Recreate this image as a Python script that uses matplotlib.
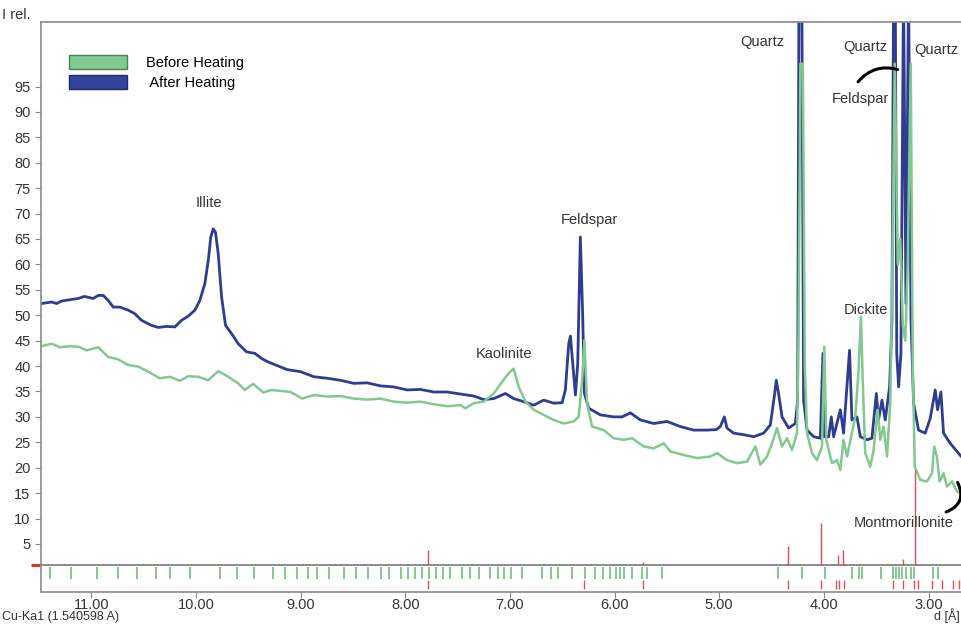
import matplotlib
matplotlib.use("Agg")
import matplotlib.pyplot as plt
from matplotlib.patches import Patch

plt.rcParams['font.family'] = ['Liberation Sans', 'DejaVu Sans']

# d spacing (Angstrom) / relative intensity
after_d = [11.475, 11.379, 11.331, 11.284, 11.188, 11.124, 11.067, 10.981, 10.933, 10.885,
           10.838, 10.790, 10.727, 10.647, 10.584, 10.520, 10.424, 10.360, 10.281, 10.201,
           10.138, 10.074, 10.010, 9.963, 9.915, 9.882, 9.858, 9.835, 9.813, 9.787,
           9.755, 9.717, 9.660, 9.596, 9.517, 9.437, 9.373, 9.309, 9.128, 9.001,
           8.874, 8.746, 8.619, 8.492, 8.364, 8.237, 8.110, 7.982, 7.855, 7.728,
           7.600, 7.473, 7.346, 7.250, 7.155, 7.043, 6.964, 6.868, 6.773, 6.677,
           6.582, 6.501, 6.470, 6.438, 6.422, 6.400, 6.374, 6.352, 6.327, 6.305,
           6.288, 6.247, 6.136, 6.009, 5.928, 5.849, 5.754, 5.627, 5.499, 5.372,
           5.245, 5.117, 5.028, 4.990, 4.951, 4.926, 4.862, 4.767, 4.671, 4.576,
           4.512, 4.474, 4.455, 4.433, 4.400, 4.337, 4.273, 4.251, 4.238, 4.211,
           4.194, 4.161, 4.098, 4.034, 4.009, 3.996, 3.955, 3.929, 3.907, 3.843,
           3.812, 3.755, 3.732, 3.684, 3.652, 3.588, 3.541, 3.499, 3.478, 3.445,
           3.414, 3.372, 3.350, 3.334, 3.318, 3.304, 3.286, 3.264, 3.239, 3.216,
           3.191, 3.168, 3.143, 3.096, 3.032, 2.984, 2.936, 2.914, 2.882, 2.857,
           2.793, 2.729, 2.688, 2.602]
after_i = [52.3, 52.6, 52.3, 52.8, 53.1, 53.3, 53.7, 53.3, 53.9, 53.9,
           52.9, 51.6, 51.6, 51.0, 50.3, 49.0, 48.0, 47.6, 47.8, 47.7,
           49.0, 49.8, 51.0, 52.9, 56.2, 60.8, 65.4, 67.0, 66.3, 62.1,
           53.6, 48.0, 46.4, 44.4, 42.8, 42.5, 41.5, 40.8, 39.3, 38.9,
           37.9, 37.6, 37.2, 36.6, 36.7, 36.1, 35.9, 35.3, 35.4, 34.9,
           34.9, 34.5, 34.1, 33.4, 33.6, 34.6, 33.6, 33.0, 32.3, 33.3,
           32.7, 32.8, 35.3, 44.4, 45.9, 40.5, 34.3, 40.5, 65.4, 50.3,
           34.6, 31.7, 30.4, 30.0, 30.0, 30.8, 29.4, 28.7, 29.1, 28.1,
           27.4, 27.4, 27.5, 28.1, 30.0, 27.8, 26.8, 26.5, 26.1, 26.8,
           28.4, 34.0, 37.2, 34.6, 30.0, 27.8, 28.7, 33.3, 115.0, 115.0,
           33.3, 27.4, 26.1, 25.8, 42.5, 26.1, 26.1, 30.0, 26.1, 31.4,
           26.8, 43.1, 29.4, 30.0, 26.1, 25.5, 25.8, 34.6, 29.4, 33.3,
           29.4, 35.9, 49.0, 115.0, 115.0, 42.5, 35.9, 42.5, 115.0, 52.3,
           115.0, 49.0, 32.7, 27.4, 26.8, 29.7, 35.3, 31.4, 34.9, 26.8,
           24.8, 23.2, 22.2, 21.8]

before_d = [11.475, 11.379, 11.300, 11.204, 11.124, 11.045, 10.933, 10.838, 10.742, 10.647,
            10.551, 10.456, 10.345, 10.249, 10.154, 10.074, 9.978, 9.882, 9.787, 9.691,
            9.596, 9.533, 9.453, 9.357, 9.278, 9.096, 8.985, 8.874, 8.746, 8.619,
            8.492, 8.364, 8.237, 8.110, 7.982, 7.855, 7.728, 7.600, 7.473, 7.425,
            7.346, 7.250, 7.155, 7.075, 7.011, 6.964, 6.916, 6.852, 6.773, 6.677,
            6.582, 6.486, 6.391, 6.343, 6.310, 6.288, 6.263, 6.215, 6.104, 6.009,
            5.913, 5.833, 5.722, 5.627, 5.531, 5.467, 5.340, 5.212, 5.085, 5.021,
            4.926, 4.830, 4.734, 4.655, 4.607, 4.543, 4.496, 4.448, 4.400, 4.352,
            4.305, 4.257, 4.242, 4.225, 4.201, 4.182, 4.161, 4.114, 4.066, 4.018,
            3.996, 3.977, 3.923, 3.875, 3.843, 3.812, 3.779, 3.732, 3.700, 3.669,
            3.646, 3.627, 3.605, 3.557, 3.525, 3.487, 3.461, 3.430, 3.397, 3.366,
            3.350, 3.323, 3.294, 3.270, 3.246, 3.222, 3.199, 3.170, 3.151, 3.132,
            3.079, 3.015, 2.967, 2.946, 2.920, 2.895, 2.857, 2.824, 2.776, 2.729,
            2.688, 2.602]
before_i = [43.9, 44.4, 43.7, 43.9, 43.8, 43.1, 43.7, 41.8, 41.3, 40.2,
            39.9, 38.9, 37.6, 37.9, 37.1, 38.0, 37.9, 37.2, 39.0, 37.9,
            36.6, 35.3, 36.5, 34.8, 35.3, 34.9, 33.6, 34.3, 34.0, 34.1,
            33.6, 33.4, 33.6, 33.0, 32.8, 33.0, 32.5, 32.1, 32.3, 31.7,
            32.7, 33.0, 34.6, 36.9, 38.6, 39.5, 35.9, 33.0, 31.4, 30.4,
            29.4, 28.7, 29.1, 30.0, 37.2, 45.1, 32.7, 28.1, 27.4, 25.8,
            25.5, 25.8, 24.2, 23.8, 24.8, 23.2, 22.5, 21.9, 22.2, 22.9,
            21.5, 20.9, 21.2, 24.2, 20.6, 22.2, 24.8, 27.8, 24.2, 25.8,
            23.5, 26.8, 46.4, 99.5, 99.5, 40.0, 26.8, 22.9, 21.5, 24.2,
            43.8, 25.5, 20.9, 21.5, 19.6, 25.5, 22.2, 26.8, 30.0, 39.2,
            49.7, 35.9, 22.9, 20.2, 23.5, 31.4, 25.5, 28.1, 22.2, 32.7,
            53.6, 99.5, 60.0, 65.0, 48.0, 45.0, 60.0, 99.5, 40.0, 20.2,
            17.6, 17.3, 18.9, 24.2, 22.2, 17.3, 18.9, 16.3, 17.3, 15.3,
            15.0, 14.8]

# reference pattern sticks
green_ref_d = [11.398, 11.194, 10.945, 10.743, 10.562, 10.384, 10.243, 10.056, 9.770, 9.610,
               9.445, 9.268, 9.145, 9.037, 8.930, 8.839, 8.724, 8.590, 8.466, 8.356,
               8.227, 8.151, 8.037, 7.969, 7.903, 7.836, 7.774, 7.702, 7.635, 7.568,
               7.454, 7.377, 7.291, 7.186, 7.115, 7.053, 6.986, 6.881, 6.690, 6.609,
               6.537, 6.410, 6.279, 6.183, 6.107, 6.040, 5.990, 5.945, 5.906, 5.830,
               5.735, 5.687, 5.544, 4.435, 4.206, 3.987, 3.729, 3.662, 3.633, 3.452,
               3.337, 3.309, 3.285, 3.252, 3.218, 3.165, 3.141, 2.955, 2.912]
red_ref_d = [7.781, 5.728, 4.339, 4.027, 3.868, 3.815, 3.242, 3.127]
red_ref_h = [2.8, 0.5, 3.6, 8.2, 2.0, 2.8, 1.2, 18.6]
red_low_d = [7.781, 6.288, 5.728, 4.346, 4.027, 3.887, 3.855, 3.810, 3.337, 3.241,
             3.136, 3.104, 2.964, 2.869, 2.767, 2.712]

x_ticks = [11, 10, 9, 8, 7, 6, 5, 4, 3]
y_ticks = [5, 10, 15, 20, 25, 30, 35, 40, 45, 50, 55, 60, 65, 70, 75, 80, 85, 90, 95]

green = '#82c98f'
blue = '#2e3d91'
grey = '#8a8a8a'
base = 0.92

fig = plt.figure(figsize=(9.61, 6.24), dpi=100)
ax = fig.add_axes([0.0427, 0.0513, 0.9573, 0.9135])

ax.plot(after_d, after_i, color=blue, lw=2.0)
ax.plot(before_d, before_i, color=green, lw=1.8)

ax.axhline(base, color='#777777', lw=1.2)
ax.vlines(green_ref_d, -1.8, 0.4, color='#6cc07c', lw=1.2)
ax.vlines(red_ref_d, base, [base + h for h in red_ref_h], color='#e05050', lw=1.0)
ax.vlines(red_low_d, -3.9, -2.0, color='#e05050', lw=1.0)

ax.set_xlim(11.48, 2.69)
ax.set_ylim(-4.45, 107.7)
ax.set_xticks(x_ticks)
ax.set_xticklabels(['%.2f' % t for t in x_ticks])
ax.set_yticks(y_ticks)
ax.set_yticks([base], minor=True)
ax.tick_params(axis='both', which='major', labelsize=10.5, colors='#333333',
               length=4, color=grey)
ax.tick_params(axis='y', which='minor', length=7, width=2.2, color='#e03030')
ax.tick_params(axis='x', pad=0.5)
ax.spines['right'].set_visible(False)
for s in ['left', 'top', 'bottom']:
    ax.spines[s].set_color(grey)
    ax.spines[s].set_linewidth(1.2)

lab = dict(fontsize=10.5, color='#333333', ha='center', va='center')
ax.text(9.880, 72.0, 'Illite', **lab)
ax.text(6.241, 68.8, 'Feldspar', **lab)
ax.text(7.052, 42.3, 'Kaolinite', **lab)
ax.text(4.588, 103.8, 'Quartz', **lab)
ax.text(3.605, 102.8, 'Quartz', **lab)
ax.text(3.137, 102.2, 'Quartz', fontsize=10.5, color='#333333', ha='left', va='center')
ax.text(3.652, 92.6, 'Feldspar', **lab)
ax.text(3.595, 51.0, 'Dickite', **lab)
ax.text(3.719, 9.2, 'Montmorillonite', fontsize=10.5, color='#333333', ha='left', va='center')

ax.annotate('', xy=(3.27, 98.2), xytext=(3.69, 95.5),
            arrowprops=dict(arrowstyle='-', connectionstyle='arc3,rad=-0.35',
                            lw=2.2, color='black'))
ax.annotate('', xy=(2.735, 17.6), xytext=(2.857, 11.1),
            arrowprops=dict(arrowstyle='-', connectionstyle='arc3,rad=0.6',
                            lw=2.2, color='black'), annotation_clip=False)

handles = [Patch(facecolor=green, edgecolor='#4f7f58', lw=1.0),
           Patch(facecolor='#33449a', edgecolor='#1e2a6e', lw=1.0)]
ax.legend(handles, ['Before Heating', ' After Heating'], loc='upper left',
          bbox_to_anchor=(0.030, 0.942), frameon=False, fontsize=10.5,
          handlelength=4.0, handleheight=1.1, handletextpad=1.3,
          labelspacing=0.35, borderpad=0, borderaxespad=0)

fig.text(0.002, 0.976, 'I rel.', fontsize=10.5, color='#333333', ha='left', va='center')
fig.text(0.002, 0.001, 'Cu-Ka1 (1.540598 A)', fontsize=9, color='#333333',
         ha='left', va='bottom')
fig.text(0.999, 0.001, 'd [Å]', fontsize=9, color='#333333', ha='right', va='bottom')

fig.savefig('out.png', dpi=100)
